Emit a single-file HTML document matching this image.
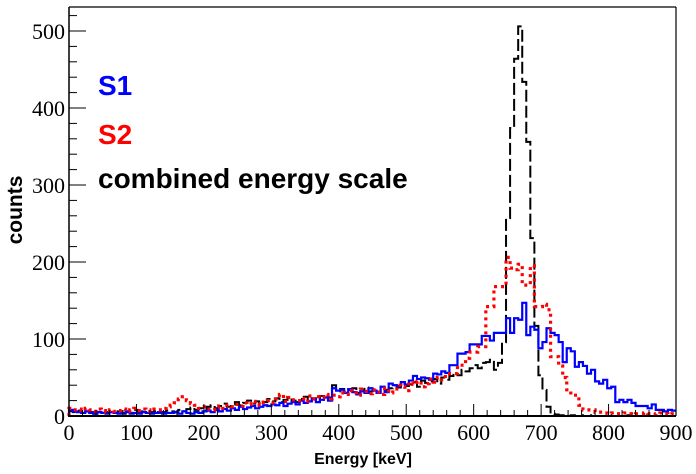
<!DOCTYPE html>
<html><head><meta charset="utf-8"><style>
html,body{margin:0;padding:0;background:#fff;}
svg{display:block;}
</style></head><body>
<svg id="chart" width="696" height="474" xmlns="http://www.w3.org/2000/svg">
<rect x="0" y="0" width="696" height="474" fill="#fff"/>
<g id="hists"></g>
<g id="axes"></g>
<text x="98" y="95" font-family="Liberation Sans, sans-serif" font-weight="bold" font-size="28" fill="#0000ff">S1</text>
<text x="98" y="144" font-family="Liberation Sans, sans-serif" font-weight="bold" font-size="28" fill="#ff0000">S2</text>
<text x="98" y="188" font-family="Liberation Sans, sans-serif" font-weight="bold" font-size="28" fill="#000">combined energy scale</text>
<text x="363" y="464" text-anchor="middle" font-family="Liberation Sans, sans-serif" font-weight="bold" font-size="16" fill="#000">Energy [keV]</text>
<text transform="translate(22,210) rotate(-90)" text-anchor="middle" font-family="Liberation Sans, sans-serif" font-weight="bold" font-size="21" fill="#000">counts</text>
</svg>
<script>
const binWidth = 6;
const xTicks = [0,100,200,300,400,500,600,700,800,900];
const yTicks = [0,100,200,300,400,500];
const s1Counts = [
8,6,5,4,6,4,3,5,4,3,5,4,3,4,6,3,4,3,5,4,3,4,5,3,4,
4,5,3,6,4,3,5,4,6,7,5,8,6,9,7,10,8,12,9,11,13,10,12,14,13,
15,14,17,13,16,18,15,20,17,19,22,18,21,24,20,36,33,34,30,35,31,28,32,30,36,
33,30,38,31,42,40,39,44,41,46,52,48,50,49,47,55,54,58,56,66,66,81,81,83,93,
93,93,104,104,98,108,108,108,127,108,127,125,147,105,116,112,88,96,114,108,105,96,70,88,84,
64,70,65,55,60,45,42,47,36,38,18,21,18,21,17,13,13,13,10,15,8,8,6,8,7];
const s2Counts = [
10,8,9,7,10,8,6,9,7,5,8,6,7,9,6,8,10,7,9,8,6,9,8,10,12,
14,17,22,25,20,16,14,10,12,9,8,11,13,10,14,12,15,13,17,15,19,16,14,18,20,
17,22,28,19,24,21,20,23,19,26,22,25,24,28,22,27,25,30,28,33,30,27,35,32,29,
34,31,28,36,30,35,40,38,33,44,41,45,38,42,48,44,50,47,55,55,55,66,66,75,83,
83,90,90,142,142,168,168,168,206,192,190,197,170,170,195,142,142,145,138,77,77,65,50,34,27,
27,14,8,8,8,5,5,4,3,4,3,3,4,3,2,3,3,4,3,2,3,4,3,2,3];
const combinedCounts = [
6,5,7,4,6,5,3,6,4,5,7,4,6,3,5,4,8,5,6,4,5,6,4,5,7,
6,5,8,6,9,11,8,10,7,12,14,10,13,16,12,15,18,14,17,20,16,19,15,18,22,
19,23,18,21,24,20,18,22,25,19,23,20,26,21,24,40,32,35,31,34,36,30,33,37,32,
35,31,38,34,36,40,37,42,39,41,44,38,46,43,45,48,42,50,47,52,55,53,60,58,62,
66,62,69,70,73,60,69,96,257,374,464,506,434,356,231,117,53,34,12,3,2,1,1,0,1,
0,1,0,0,1,0,0,0,1,0,0,0,0,1,0,0,0,0,0,1,0,0,0,0,0];

const X0=69, X1=676, Y0=416, YTOP=7, XMAX=900, YPER=0.77;
function xs(v){return X0+(v/XMAX)*(X1-X0);}
function ys(v){return Y0-v*YPER;}
const NS="http://www.w3.org/2000/svg";
const hg=document.getElementById('hists');
const ax=document.getElementById('axes');
function stepPath(arr){
  let d="M"+xs(0)+","+ys(0);
  for(let i=0;i<arr.length;i++){
    const a=xs(i*binWidth), b=xs((i+1)*binWidth), y=ys(arr[i]);
    d+=" L"+a.toFixed(2)+","+y.toFixed(2)+" L"+b.toFixed(2)+","+y.toFixed(2);
  }
  return d;
}
function addHist(arr,color,w,dash,name){
  const p=document.createElementNS(NS,'path');
  p.setAttribute('d',stepPath(arr));
  p.setAttribute('fill','none');
  p.setAttribute('stroke',color);
  p.setAttribute('stroke-width',w);
  if(dash)p.setAttribute('stroke-dasharray',dash);
  
  
  hg.appendChild(p);
}
addHist(combinedCounts,'#000',2,'12,4','series-combined');
addHist(s1Counts,'#0000ff',2.2,null,'series-s1');
addHist(s2Counts,'#ff0000',3.2,'3,4','series-s2');

function line(x1,y1,x2,y2,w,name){
  const l=document.createElementNS(NS,'line');
  l.setAttribute('x1',x1);l.setAttribute('y1',y1);l.setAttribute('x2',x2);l.setAttribute('y2',y2);
  l.setAttribute('stroke','#000');l.setAttribute('stroke-width',w);
  
  
  ax.appendChild(l);
}
function txt(x,y,s,anchor,name){
  const t=document.createElementNS(NS,'text');
  t.setAttribute('x',x);t.setAttribute('y',y);t.setAttribute('text-anchor',anchor);
  t.setAttribute('font-family','Liberation Serif, serif');t.setAttribute('font-size','22');
  t.textContent=s;
  
  
  ax.appendChild(t);
}
line(X0,YTOP,X1,YTOP,1.2,'frame-top');
line(X1,YTOP,X1,Y0,1.2,'frame-right');
line(X0,YTOP,X0,Y0+1,1.5,'y-axis-line');
line(X0-1,Y0,X1,Y0,2,'x-axis-line');
for(let v=0;v<=XMAX;v+=20){
  const major=(v%100===0);
  line(xs(v),Y0,xs(v),Y0-(major?12:6),1,'x-tick');
}
for(let v=0;ys(v)>=YTOP;v+=20){
  const major=(v%100===0);
  line(X0,ys(v),X0+(major?17:8),ys(v),1,'y-tick');
}
xTicks.forEach(v=>txt(xs(v),440,String(v),'middle','x-tick-label'));
yTicks.forEach(v=>txt(X0-4,ys(v)+8,String(v),'end','y-tick-label'));
</script>
</body></html>
